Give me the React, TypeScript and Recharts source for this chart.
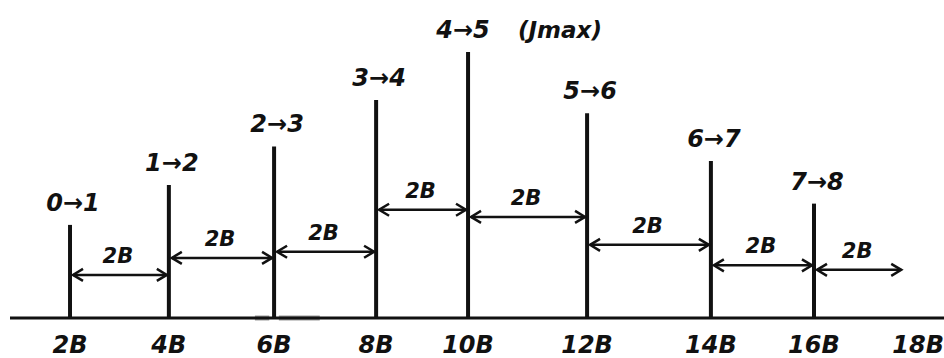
import { Bar, ComposedChart, LabelList, ReferenceLine, XAxis, YAxis } from "recharts"

// rotational lines J -> J+1, drawn where they sit on the axis (units of B)
const transitions = ["0→1", "1→2", "2→3", "3→4", "4→5", "5→6", "6→7", "7→8"]
const lineAt = [2, 3.86, 5.84, 7.76, 9.49, 11.73, 14.06, 16.0]
const intensity = [35, 50, 64.5, 82, 100, 77, 59, 43]
const peakIndex = 4
const peakNote = "(Jmax)"

const tickAt = [...lineAt, 17.96]
const tickLabels = ["2B", "4B", "6B", "8B", "10B", "12B", "14B", "16B", "18B"]

// spacing arrows between neighbouring lines, height in intensity units
const gapLabel = "2B"
const arrowLevel = [16.2, 22.6, 24.9, 40.7, 38, 27.5, 19.8, 18.1]
const lastArrowEnd = 17.68

const data = lineAt.map((x, i) => ({ x, y: intensity[i], name: transitions[i] }))

const FONT = "'DejaVu Sans', sans-serif"
const textStyle = { fontFamily: FONT, fontWeight: 700, fontStyle: "italic" as const }

function Arrow(props: any) {
  const { x1, y1, x2 } = props
  const a = x1 + 3
  const b = x2 - 2
  const h = 10
  const w = 6
  return (
    <g>
      <line x1={a} y1={y1} x2={b} y2={y1} stroke="#111" strokeWidth={2.5} />
      <polyline points={`${a + h},${y1 - w} ${a},${y1} ${a + h},${y1 + w}`} fill="none" stroke="#111" strokeWidth={2.5} />
      <polyline points={`${b - h},${y1 - w} ${b},${y1} ${b - h},${y1 + w}`} fill="none" stroke="#111" strokeWidth={2.5} />
      <text x={(a + b) / 2 - 2} y={y1 - 12} textAnchor="middle" fontSize={21} fill="#111" style={textStyle}>
        {gapLabel}
      </text>
    </g>
  )
}

function LineLabel(props: any) {
  const { x, y, width, index } = props
  const cx = x + width / 2
  if (index === peakIndex) {
    return (
      <g>
        <text x={cx - 5} y={y - 14} textAnchor="middle" fontSize={24} fill="#111" style={textStyle}>
          {transitions[index]}
        </text>
        <text x={cx + 50} y={y - 14} textAnchor="start" fontSize={23} fill="#111" style={textStyle}>
          {peakNote}
        </text>
      </g>
    )
  }
  return (
    <text x={cx + 3} y={y - 14} textAnchor="middle" fontSize={24} fill="#111" style={textStyle}>
      {transitions[index]}
    </text>
  )
}

export default function App() {
  return (
    <div style={{ position: "absolute", left: 0, top: 0, background: "#fff" }}>
      <ComposedChart width={944} height={358} data={data} margin={{ top: 52, right: 0, bottom: 0, left: 10 }}>
        <XAxis
          dataKey="x"
          type="number"
          domain={[0.871, 18.447]}
          allowDataOverflow
          ticks={tickAt}
          tickFormatter={(v: number) => tickLabels[tickAt.indexOf(v)] ?? ""}
          tickLine={false}
          tickSize={0}
          tickMargin={18}
          height={40}
          axisLine={{ stroke: "#111", strokeWidth: 3 }}
          tick={{ fill: "#111", fontSize: 24, ...textStyle }}
          interval={0}
        />
        <YAxis hide domain={[0, 100]} />
        <ReferenceLine
          segment={[{ x: 5.48, y: 0 }, { x: 5.75, y: 0 }]}
          stroke="#9a9a9a"
          strokeWidth={5}
          ifOverflow="visible"
        />
        <ReferenceLine
          segment={[{ x: 5.93, y: 0 }, { x: 6.7, y: 0 }]}
          stroke="#9a9a9a"
          strokeWidth={5}
          ifOverflow="visible"
        />
        {lineAt.map((x, i) => (
          <ReferenceLine
            key={i}
            segment={[
              { x, y: arrowLevel[i] },
              { x: i + 1 < lineAt.length ? lineAt[i + 1] : lastArrowEnd, y: arrowLevel[i] },
            ]}
            ifOverflow="visible"
            shape={Arrow}
          />
        ))}
        <Bar dataKey="y" fill="#111" barSize={4} isAnimationActive={false}>
          <LabelList dataKey="name" content={LineLabel} />
        </Bar>
      </ComposedChart>
    </div>
  )
}
